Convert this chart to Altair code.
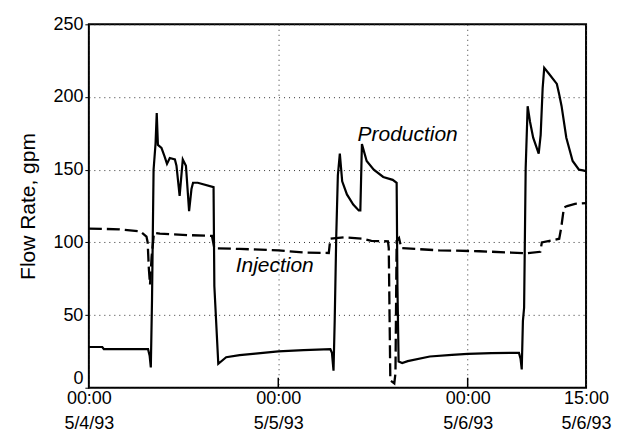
import altair as alt
import pandas as pd

# Hours since 5/4/93 00:00 and flow rate (gpm)
prod_t = [0, 1.7, 1.9, 7.5, 7.7, 7.85, 8.0, 8.2, 8.45, 8.6, 8.75, 9.2, 9.6, 9.9, 10.25, 10.9, 11.1, 11.5, 11.9, 12.3,
          12.7, 13.0, 13.2, 13.8, 15.8, 15.9, 16.4, 17.4, 19.1, 21.1, 24.0, 27.2, 30.6, 30.8, 31.0, 31.15, 31.35,
          31.55, 31.8, 32.1, 32.7, 33.5, 34.2, 34.4, 34.6, 35.2, 36.1, 37.3, 38.5, 39.0, 39.1, 39.25, 39.7, 40.4,
          43.2, 46.0, 48.0, 51.0, 54.5, 54.7, 54.85, 55.0, 55.15, 55.35, 55.6, 55.9, 56.3, 57.0, 57.25, 57.5,
          57.7, 58.3, 59.3, 59.6, 59.9, 60.5, 61.3, 62.1, 62.6, 63.0]
prod_v = [28, 28, 26.5, 26.5, 22, 14, 60, 150, 168, 189, 167, 165, 159, 154, 158, 157, 152.7, 132, 157, 152.7,
          121.5, 136.7, 141, 141, 138, 70, 16.5, 21, 22.4, 23.5, 25, 25.8, 26.5, 24, 11.7, 46, 105,
          146, 161, 142, 133, 126, 122, 122, 167.6, 156, 150, 145, 143, 141, 70, 18, 17, 18.3,
          21.5, 22.6, 23.3, 23.8, 24, 20, 12.6, 46, 55, 151, 193.7, 183, 172, 161, 174, 206,
          220, 216, 209, 201.7, 193.7, 172, 156, 150, 149.5, 149]

inj_t = [0, 3.9, 6.5, 7.3, 7.45, 7.6, 7.75, 7.95, 8.25, 9.0, 12.5, 15.6, 15.9, 19.1, 24.0, 27.2, 30.4, 30.6,
         32.3, 34.8, 35.8, 37.9, 38.0, 38.2, 38.7, 38.85, 39.0, 39.3, 39.6, 44.4, 49.5, 53.5, 55.5, 57.2, 57.4,
         59.6, 59.85, 60.2, 60.6, 61.6, 63.0]
inj_v = [109.5, 109, 107.6, 104, 100, 82, 71, 90, 106.5, 106, 105, 104.4, 96, 95.5, 94.5, 93, 92.7, 102.6,
         103.5, 102.5, 101, 100.7, 96, 5, 3, 10, 101, 103, 96, 94.5, 93.9, 93, 92.5, 93.5, 100,
         102.5, 110, 124, 125, 126.5, 127]

tick_values = [0, 24, 48, 63]
tick_times = ["00:00", "00:00", "00:00", "15:00"]
tick_dates = ["5/4/93", "5/5/93", "5/6/93", "5/6/93"]
y_ticks = [0, 50, 100, 150, 200, 250]

label_names = ["Production", "Injection"]
label_t = [40.4, 23.55]
label_v = [169.5, 79.3]

prod = pd.DataFrame({"t": prod_t, "v": prod_v})
inj = pd.DataFrame({"t": inj_t, "v": inj_v})
labels = pd.DataFrame({"name": label_names, "t": label_t, "v": label_v})
inner_ticks = pd.DataFrame({"t": tick_values[1:3]})

expr = ""
for val, tm, dt in zip(tick_values, tick_times, tick_dates):
    expr += f"datum.value == {val} ? ['{tm}', '{dt}'] : "
expr += "''"

x_scale = alt.Scale(domain=[0, 63], nice=False, zero=False)
y_scale = alt.Scale(domain=[0, 250], nice=False)

x_axis = alt.Axis(values=tick_values, labelExpr=expr, title=None, grid=True, ticks=False,
                  labelLineHeight=25, labelPadding=2, labelFontSize=18, labelFlush=False)
y_axis = alt.Axis(values=y_ticks, title="Flow Rate, gpm", grid=True, tickSize=4, labelPadding=2,
                  titleFontSize=21, titleFontWeight="normal", titlePadding=14, labelFontSize=18,
                  labelBaseline={"condition": {"test": "datum.value == 0", "value": "bottom"},
                                 "value": "middle"})

prod_line = alt.Chart(prod).mark_line(color="black", strokeWidth=2.2).encode(
    x=alt.X("t:Q", scale=x_scale, axis=x_axis),
    y=alt.Y("v:Q", scale=y_scale, axis=y_axis),
    order="t:Q",
)
inj_line = alt.Chart(inj).mark_line(color="black", strokeWidth=2.3, strokeDash=[13, 5]).encode(
    x=alt.X("t:Q", scale=x_scale),
    y=alt.Y("v:Q", scale=y_scale),
    order="t:Q",
)
texts = alt.Chart(labels).mark_text(font="Liberation Sans", fontSize=21, fontStyle="italic",
                                    align="center", baseline="alphabetic", color="black").encode(
    x=alt.X("t:Q", scale=x_scale),
    y=alt.Y("v:Q", scale=y_scale),
    text="name:N",
)
ticks_in = alt.Chart(inner_ticks).mark_rule(color="black", strokeWidth=1.5).encode(
    x=alt.X("t:Q", scale=x_scale),
    y=alt.value(364),
    y2=alt.value(354),
)

chart = alt.layer(prod_line, inj_line, texts, ticks_in).properties(
    width=498, height=364,
    padding={"left": 81, "top": 16, "right": 31, "bottom": 44},
    autosize=alt.AutoSizeParams(type="none"),
).configure_view(stroke="black", strokeWidth=2).configure_axis(
    domain=False, labelFont="Liberation Sans", titleFont="Liberation Sans",
    labelColor="black", titleColor="black", tickColor="black",
    gridColor="#333", gridDash=[1, 4], gridWidth=1,
)

chart.save("out.html", embed_options={"renderer": "svg", "actions": False})
